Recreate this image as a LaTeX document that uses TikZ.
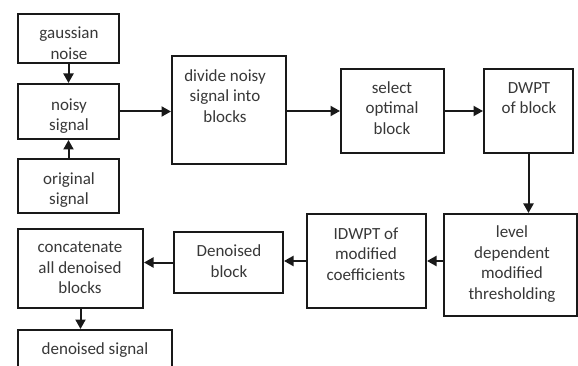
\documentclass[tikz,border=0pt]{standalone}
\usepackage{fontspec}
\setmainfont{Carlito}
\usetikzlibrary{arrows.meta}
\tikzset{
  blk/.style={draw=black!90, line width=2pt, rectangle, inner sep=0pt},
  txt/.style={align=center, inner sep=0pt, text=black!78,
              font=\fontsize{17}{20.5}\selectfont},
  arr/.style={draw=black!90, line width=2pt,
              -{Triangle[length=9.5pt,width=10pt]}}
}
\newcommand{\blkat}[5]{% name, x1, y1, x2, y2
  \node[blk, minimum width={#4-#2}, minimum height={#5-#3}] (#1) at ({(#2+#4)/2},{(#3+#5)/2}) {};}
\begin{document}
\begin{tikzpicture}[x=1pt,y=-1pt]
\useasboundingbox (0,0) rectangle (578,366);
\fill[white] (0,0) rectangle (578,366);

% boxes
\blkat{gauss}{18}{14}{119}{63}
\blkat{noisy}{18}{84}{119}{139}
\blkat{orig}{18}{159}{119}{213}
\blkat{divide}{172}{56}{286}{164}
\blkat{select}{341}{69}{444}{153}
\blkat{dwpt}{484}{69}{573}{153}
\blkat{level}{444}{214}{577}{316}
\blkat{idwpt}{307}{214}{426}{308}
\blkat{dblock}{174}{232}{283}{293}
\blkat{concat}{18}{229}{143}{308}
\blkat{dsig}{18}{330}{172}{372}

% labels
\node[txt] (gauss-t)  at (69,43)   {gaussian\\noise};
\node[txt] (noisy-t)  at (69,116)  {noisy\\signal};
\node[txt] (orig-t)   at (69,190)  {original\\signal};
\node[txt] (divide-t) at (225,96)  {divide noisy\\signal into\\blocks};
\node[txt] (select-t) at (392,108) {select\\optimal\\block};
\node[txt] (dwpt-t)   at (529,98)  {DWPT\\of block};
\node[txt] (level-t)  at (512,264) {level\\dependent\\modified\\thresholding};
\node[txt] (idwpt-t)  at (366,254) {IDWPT of\\modified\\coefficients};
\node[txt] (dblock-t) at (229,261) {Denoised\\block};
\node[txt] (concat-t) at (80,268)  {concatenate\\all denoised\\blocks};
\node[txt] (dsig-t)   at (95,350)  {denoised signal};

% connectors
\draw[arr] (gauss.south) -- (noisy.north);
\draw[arr] (orig.north) -- (noisy.south);
\draw[arr] (noisy.east) -- (noisy.east -| divide.west);
\draw[arr] (select.west -| divide.east) -- (select.west);
\draw[arr] (select.east) -- (dwpt.west);
\draw[arr] (dwpt.south) -- (dwpt.south |- level.north);
\draw[arr] (level.west |- idwpt.east) -- (idwpt.east);
\draw[arr] (idwpt.west) -- (idwpt.west -| dblock.east);
\draw[arr] (dblock.west) -- (dblock.west -| concat.east);
\draw[arr] (concat.south) -- (concat.south |- dsig.north);
\end{tikzpicture}
\end{document}
